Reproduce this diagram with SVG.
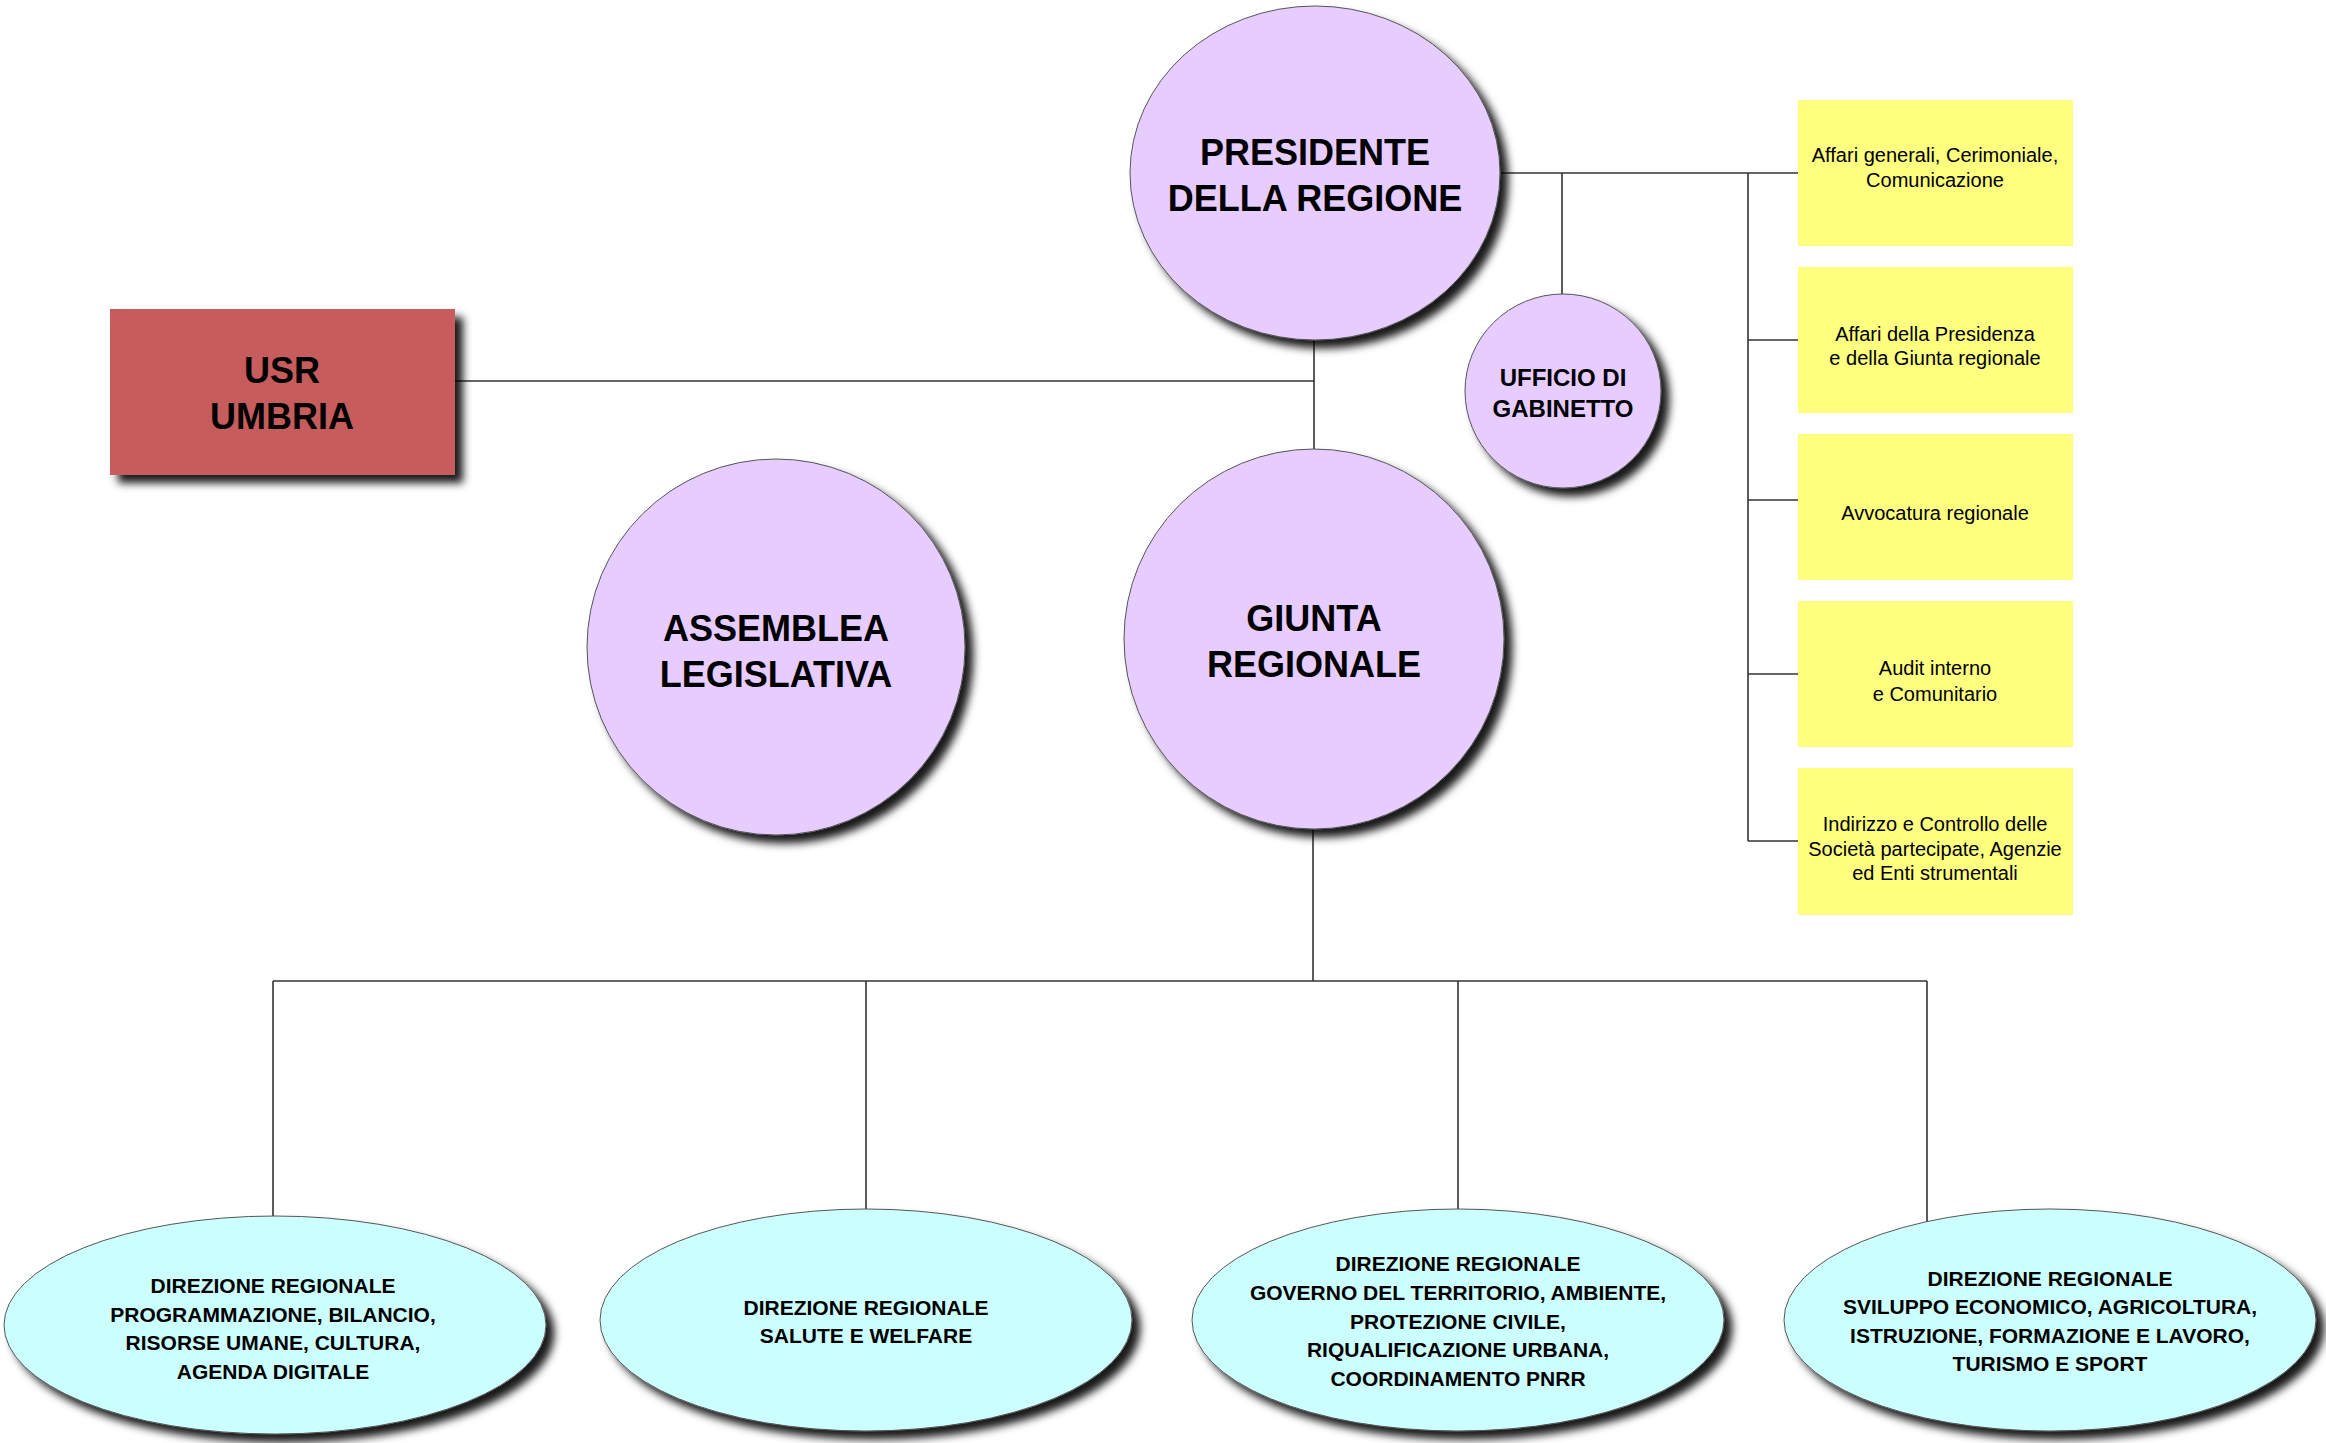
<svg xmlns="http://www.w3.org/2000/svg" width="2326" height="1443" viewBox="0 0 2326 1443">
  <defs>
    <filter id="sh" x="-10%" y="-10%" width="130%" height="130%">
      <feDropShadow dx="8" dy="8" stdDeviation="4" flood-color="#000" flood-opacity="0.9"/>
    </filter>
  </defs>
  <style>
    .conn { stroke: #333; stroke-width: 1.6; fill: none; }
    .purple { fill: #E6CCFF; stroke: #555; stroke-width: 1; filter: url(#sh); }
    .cyan { fill: #CCFFFF; stroke: #555; stroke-width: 1; filter: url(#sh); }
    .usr { fill: #C75C5C; filter: url(#sh); }
    .yellow { fill: #FFFF80; }
    .big { font-family: "Liberation Sans", Arial, sans-serif; font-weight: bold; font-size: 36px; text-anchor: middle; fill: #000; }
    .mid { font-family: "Liberation Sans", Arial, sans-serif; font-weight: bold; font-size: 24px; text-anchor: middle; fill: #000; }
    .dir { font-family: "Liberation Sans", Arial, sans-serif; font-weight: bold; font-size: 21px; text-anchor: middle; fill: #000; }
    .off { font-family: "Liberation Sans", Arial, sans-serif; font-size: 20px; text-anchor: middle; fill: #000; }
  </style>
  <rect width="2326" height="1443" fill="#fff"/>

  <g id="connectors">
    <line class="conn" x1="1500" y1="173" x2="1798" y2="173"/>
    <line class="conn" x1="1562" y1="173" x2="1562" y2="295"/>
    <line class="conn" x1="1748" y1="173" x2="1748" y2="841"/>
    <line class="conn" x1="1748" y1="340" x2="1798" y2="340"/>
    <line class="conn" x1="1748" y1="500" x2="1798" y2="500"/>
    <line class="conn" x1="1748" y1="674" x2="1798" y2="674"/>
    <line class="conn" x1="1748" y1="841" x2="1798" y2="841"/>
    <line class="conn" x1="1314" y1="330" x2="1314" y2="452"/>
    <line class="conn" x1="455" y1="381" x2="1314" y2="381"/>
    <line class="conn" x1="1313" y1="825" x2="1313" y2="981"/>
    <line class="conn" x1="273" y1="981" x2="1927" y2="981"/>
    <line class="conn" x1="273" y1="981" x2="273" y2="1220"/>
    <line class="conn" x1="866" y1="981" x2="866" y2="1212"/>
    <line class="conn" x1="1458" y1="981" x2="1458" y2="1212"/>
    <line class="conn" x1="1927" y1="981" x2="1927" y2="1226"/>
  </g>

  <g id="presidente">
    <ellipse class="purple" cx="1315" cy="173" rx="185" ry="167"/>
    <text class="big" x="1315" y="165" font-size="37">PRESIDENTE</text>
    <text class="big" x="1315" y="211" font-size="37">DELLA REGIONE</text>
  </g>

  <g id="usr">
    <rect class="usr" x="110" y="309" width="345" height="166"/>
    <text class="big" x="282" y="383">USR</text>
    <text class="big" x="282" y="429">UMBRIA</text>
  </g>

  <g id="ufficio">
    <ellipse class="purple" cx="1563" cy="391" rx="98" ry="97"/>
    <text class="mid" x="1563" y="386">UFFICIO DI</text>
    <text class="mid" x="1563" y="417">GABINETTO</text>
  </g>

  <g id="assemblea">
    <ellipse class="purple" cx="776" cy="647" rx="189" ry="188"/>
    <text class="big" x="776" y="641">ASSEMBLEA</text>
    <text class="big" x="776" y="687">LEGISLATIVA</text>
  </g>

  <g id="giunta">
    <ellipse class="purple" cx="1314" cy="639" rx="190" ry="190"/>
    <text class="big" x="1314" y="631">GIUNTA</text>
    <text class="big" x="1314" y="677">REGIONALE</text>
  </g>

  <g id="affari-generali">
    <rect class="yellow" x="1798" y="100" width="275" height="146"/>
    <text class="off" x="1935" y="162">Affari generali, Cerimoniale,</text>
    <text class="off" x="1935" y="187">Comunicazione</text>
  </g>
  <g id="affari-presidenza">
    <rect class="yellow" x="1798" y="267" width="275" height="146"/>
    <text class="off" x="1935" y="341">Affari della Presidenza</text>
    <text class="off" x="1935" y="365">e della Giunta regionale</text>
  </g>
  <g id="avvocatura">
    <rect class="yellow" x="1798" y="434" width="275" height="146"/>
    <text class="off" x="1935" y="520">Avvocatura regionale</text>
  </g>
  <g id="audit">
    <rect class="yellow" x="1798" y="601" width="275" height="146"/>
    <text class="off" x="1935" y="675">Audit interno</text>
    <text class="off" x="1935" y="701">e Comunitario</text>
  </g>
  <g id="indirizzo">
    <rect class="yellow" x="1798" y="768" width="275" height="147"/>
    <text class="off" x="1935" y="831">Indirizzo e Controllo delle</text>
    <text class="off" x="1935" y="856">Società partecipate, Agenzie</text>
    <text class="off" x="1935" y="880">ed Enti strumentali</text>
  </g>

  <g id="dir-programmazione">
    <ellipse class="cyan" cx="275" cy="1325" rx="271" ry="109"/>
    <text class="dir" x="273" y="1293">DIREZIONE REGIONALE</text>
    <text class="dir" x="273" y="1322">PROGRAMMAZIONE, BILANCIO,</text>
    <text class="dir" x="273" y="1350">RISORSE UMANE, CULTURA,</text>
    <text class="dir" x="273" y="1379">AGENDA DIGITALE</text>
  </g>
  <g id="dir-salute">
    <ellipse class="cyan" cx="866" cy="1320" rx="266" ry="111"/>
    <text class="dir" x="866" y="1315">DIREZIONE REGIONALE</text>
    <text class="dir" x="866" y="1343">SALUTE E WELFARE</text>
  </g>
  <g id="dir-territorio">
    <ellipse class="cyan" cx="1458" cy="1320" rx="266" ry="111"/>
    <text class="dir" x="1458" y="1271">DIREZIONE REGIONALE</text>
    <text class="dir" x="1458" y="1300">GOVERNO DEL TERRITORIO, AMBIENTE,</text>
    <text class="dir" x="1458" y="1329">PROTEZIONE CIVILE,</text>
    <text class="dir" x="1458" y="1357">RIQUALIFICAZIONE URBANA,</text>
    <text class="dir" x="1458" y="1386">COORDINAMENTO PNRR</text>
  </g>
  <g id="dir-sviluppo">
    <ellipse class="cyan" cx="2050" cy="1320" rx="266" ry="111"/>
    <text class="dir" x="2050" y="1286">DIREZIONE REGIONALE</text>
    <text class="dir" x="2050" y="1314">SVILUPPO ECONOMICO, AGRICOLTURA,</text>
    <text class="dir" x="2050" y="1343">ISTRUZIONE, FORMAZIONE E LAVORO,</text>
    <text class="dir" x="2050" y="1371">TURISMO E SPORT</text>
  </g>
</svg>
